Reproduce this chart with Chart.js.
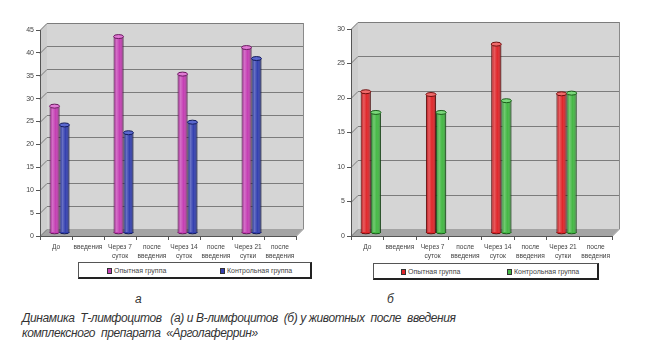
<!DOCTYPE html>
<html>
<head>
<meta charset="utf-8">
<script src="https://cdn.jsdelivr.net/npm/chart.js@4.4.1/dist/chart.umd.min.js"></script>
<style>
body { margin: 0; background: #fff; width: 658px; height: 360px; position: relative; overflow: hidden;
       font-family: "Liberation Sans", Arial, sans-serif; color: #333; }
canvas { position: absolute; top: 0; }
.legend { position: absolute; border: 1px solid #555; border-right: 2px solid #222; border-bottom: 2px solid #222;
          background: #fff; font-size: 7px; color: #444; box-sizing: border-box; }
.legend span { position: absolute; top: 4px; white-space: nowrap; }
.legend i { display: inline-block; width: 5px; height: 6px; margin-right: 2px; vertical-align: -1px; border: 1px solid #333; box-sizing: border-box; }
.letter { position: absolute; top: 292px; font-size: 12px; font-style: italic; color: #333; }
.caption { position: absolute; left: 22px; top: 311px; font-size: 12px; font-style: italic; line-height: 15px;
           letter-spacing: -0.4px; white-space: pre; color: #333; }
</style>
</head>
<body>
<canvas id="chartA" width="330" height="262" style="left:0"></canvas>
<canvas id="chartB" width="328" height="262" style="left:330px"></canvas>
<div class="legend" id="legendA" style="left:78px;top:262px;width:234px;height:17px"></div>
<div class="legend" id="legendB" style="left:373px;top:263px;width:226px;height:17px"></div>
<div class="letter" style="left:135px">а</div>
<div class="letter" style="left:387px">б</div>
<div class="caption">Динамика  Т-лимфоцитов   (а) и В-лимфоцитов  (б) у животных  после  введения
комплексного  препарата  «Арголаферрин»</div>
<script>
var slotLabels = [['До'], ['введения'], ['Через 7', 'суток'], ['после', 'введения'],
                  ['Через 14', 'суток'], ['после', 'введения'], ['Через 21', 'сутки'], ['после', 'введения']];
var seriesNames = ['Опытная группа', 'Контрольная группа'];

// а: T-лимфоциты
var expA = [27.6, 42.8, 34.6, 40.4];
var ctrlA = [23.5, 21.8, 24.1, 38.0];
var ticksA = [0, 5, 10, 15, 20, 25, 30, 35, 40, 45];

// б: B-лимфоциты
var expB = [20.4, 20.0, 27.3, 20.1];
var ctrlB = [17.4, 17.4, 19.1, 20.2];
var ticksB = [0, 5, 10, 15, 20, 25, 30];

var DEPTH = 7;

// bars sit only in the "До", "Через 7", "Через 14", "Через 21" slots
function toSlots(values) {
    var out = [];
    values.forEach(function (v) { out.push(v, null); });
    return out;
}

var wallPlugin = {
    id: 'wall3d',
    beforeDraw: function (chart) {
        var ctx = chart.ctx, a = chart.chartArea, y = chart.scales.y, d = DEPTH;
        ctx.save();
        // back wall
        ctx.fillStyle = '#d5d5d5';
        ctx.fillRect(a.left + d, a.top - d, a.right - a.left, a.bottom - a.top);
        // left wall
        ctx.fillStyle = '#cdcdcd';
        ctx.beginPath();
        ctx.moveTo(a.left, a.top); ctx.lineTo(a.left + d, a.top - d);
        ctx.lineTo(a.left + d, a.bottom - d); ctx.lineTo(a.left, a.bottom);
        ctx.closePath(); ctx.fill();
        // floor
        ctx.fillStyle = '#a4a4a4';
        ctx.beginPath();
        ctx.moveTo(a.left, a.bottom); ctx.lineTo(a.left + d, a.bottom - d);
        ctx.lineTo(a.right + d, a.bottom - d); ctx.lineTo(a.right, a.bottom);
        ctx.closePath(); ctx.fill();
        // grid lines on walls
        ctx.strokeStyle = '#7c7c7c';
        ctx.lineWidth = 1;
        y.ticks.forEach(function (t) {
            var py = Math.round(y.getPixelForValue(t.value)) + 0.5;
            ctx.beginPath();
            ctx.moveTo(a.left, py);
            ctx.lineTo(a.left + d, py - d);
            if (t.value !== 0) ctx.lineTo(a.right + d, py - d);
            ctx.stroke();
        });
        // outline
        ctx.strokeStyle = '#8a8a8a';
        ctx.beginPath();
        ctx.moveTo(a.right + d + 0.5, a.top - d);
        ctx.lineTo(a.right + d + 0.5, a.bottom - d);
        ctx.lineTo(a.right, a.bottom + 0.5);
        ctx.stroke();
        ctx.restore();
    },
    beforeDatasetsDraw: function (chart) {
        chart.ctx.save();
        chart.ctx.translate(DEPTH / 2, -DEPTH / 2);
    },
    afterDatasetsDraw: function (chart) {
        var ctx = chart.ctx;
        chart.data.datasets.forEach(function (ds, i) {
            chart.getDatasetMeta(i).data.forEach(function (el, j) {
                if (ds.data[j] === null) return;
                var w = el.width, x0 = el.x - w / 2;
                var g = ctx.createLinearGradient(x0, 0, x0 + w, 0);
                g.addColorStop(0, 'rgba(0,0,0,0.15)');
                g.addColorStop(0.3, 'rgba(255,255,255,0.25)');
                g.addColorStop(0.6, 'rgba(255,255,255,0.0)');
                g.addColorStop(1, 'rgba(0,0,0,0.35)');
                ctx.fillStyle = g;
                ctx.fillRect(x0, el.y, w, el.base - el.y);
                // bottom rounding
                ctx.beginPath();
                ctx.ellipse(el.x, el.base, w / 2, 1.8, 0, 0, Math.PI);
                ctx.fillStyle = ds.backgroundColor;
                ctx.fill();
                ctx.strokeStyle = ds.borderColor;
                ctx.stroke();
                // top cap
                ctx.beginPath();
                ctx.ellipse(el.x, el.y, w / 2, 2, 0, 0, Math.PI * 2);
                ctx.fillStyle = ds.capColor;
                ctx.fill();
                ctx.lineWidth = 1;
                ctx.strokeStyle = ds.borderColor;
                ctx.stroke();
            });
        });
        ctx.restore();
    }
};

function makeChart(id, exp, ctrl, yTicks, colors, yWidth, pad) {
    return new Chart(document.getElementById(id), {
        type: 'bar',
        data: {
            labels: slotLabels,
            datasets: [
                { label: seriesNames[0], data: toSlots(exp), backgroundColor: colors[0], capColor: colors[2],
                  borderColor: colors[4], borderWidth: 1, borderSkipped: 'bottom' },
                { label: seriesNames[1], data: toSlots(ctrl), backgroundColor: colors[1], capColor: colors[3],
                  borderColor: colors[5], borderWidth: 1, borderSkipped: 'bottom' }
            ]
        },
        options: {
            responsive: false,
            animation: false,
            layout: { padding: pad },
            datasets: { bar: { categoryPercentage: 0.62, barPercentage: 1, skipNull: false } },
            plugins: { legend: { display: false }, tooltip: { enabled: false } },
            scales: {
                x: {
                    offset: true,
                    grid: { offset: true, drawOnChartArea: false, drawTicks: true, tickLength: 4, color: '#555' },
                    border: { display: true, color: '#555' },
                    ticks: { autoSkip: false, maxRotation: 0, padding: 3, color: '#444',
                             font: { family: 'Liberation Sans, Arial, sans-serif', size: 6.6, lineHeight: 1.35 } },
                    afterFit: function (s) { s.height = 26; }
                },
                y: {
                    min: yTicks[0],
                    max: yTicks[yTicks.length - 1],
                    afterBuildTicks: function (s) { s.ticks = yTicks.map(function (v) { return { value: v }; }); },
                    grid: { drawOnChartArea: false, drawTicks: true, tickLength: 4, color: '#555' },
                    border: { display: true, color: '#555' },
                    ticks: { padding: 2, color: '#444', font: { family: 'Liberation Sans, Arial, sans-serif', size: 7 } },
                    afterFit: function (s) { s.width = yWidth; }
                }
            }
        },
        plugins: [wallPlugin]
    });
}

function makeLegend(id, colors, offsets) {
    var box = document.getElementById(id);
    seriesNames.forEach(function (name, i) {
        var s = document.createElement('span');
        s.style.left = offsets[i] + 'px';
        s.innerHTML = '<i style="background:' + colors[i] + '"></i>' + name;
        box.appendChild(s);
    });
}

var colorsA = ['#c53fb4', '#3440b0', '#e07ad4', '#5a68d0', '#6a1a60', '#141c5c'];
var colorsB = ['#e0262a', '#44b844', '#f06a6a', '#7ad87a', '#701010', '#1a5c1a'];

makeChart('chartA', expA, ctrlA, ticksA, colorsA, 40, { top: 30, right: 34, left: 0, bottom: 0 });
makeChart('chartB', expB, ctrlB, ticksB, colorsB, 21, { top: 29, right: 46, left: 0, bottom: 0 });
makeLegend('legendA', colorsA, [28, 141]);
makeLegend('legendB', colorsB, [27, 133]);
</script>
</body>
</html>
